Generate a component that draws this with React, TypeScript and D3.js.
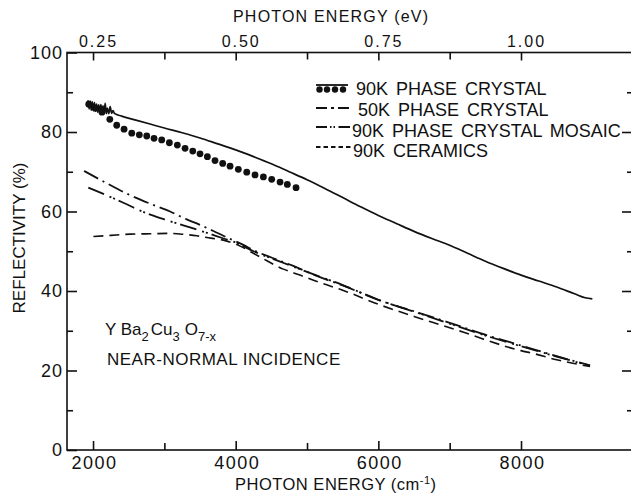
import React, { useEffect, useRef } from "react";
import * as d3 from "d3";

// reflectivity (%) vs photon energy (cm^-1)
const crystal90Line: [number, number][] = [
  [1930, 88.0], [1945, 85.8], [1960, 87.8], [1975, 85.5], [1990, 87.6], [2005, 85.4],
  [2020, 87.4], [2035, 85.2], [2050, 87.0], [2065, 85.0], [2080, 86.8], [2095, 84.9],
  [2110, 86.9], [2125, 84.8], [2140, 86.6], [2155, 84.7], [2170, 87.2], [2185, 84.6],
  [2200, 86.0], [2220, 84.6], [2240, 86.4], [2260, 84.7], [2280, 85.4], [2300, 84.7],
  [2400, 84.0], [2600, 83.0], [2800, 82.0], [3000, 81.0], [3250, 79.8], [3500, 78.5],
  [3750, 77.0], [4000, 75.5], [4250, 73.8], [4500, 72.0], [4750, 70.0], [5000, 68.0],
  [5250, 65.8], [5500, 63.5], [5750, 61.2], [6000, 59.0], [6250, 57.0], [6500, 55.0],
  [6750, 53.2], [7000, 51.5], [7250, 49.5], [7500, 47.5], [7750, 45.7], [8000, 44.0],
  [8250, 42.5], [8500, 41.0], [8750, 39.3], [8900, 38.3], [9000, 38.0],
];

const crystal90Dots: [number, number][] = [
  [1940, 87.0], [2030, 86.0], [2125, 85.0], [2235, 83.2], [2332, 81.7], [2435, 80.7],
  [2543, 79.7], [2649, 79.3], [2753, 79.0], [2855, 78.4], [2963, 78.0], [3070, 77.3],
  [3182, 76.7], [3290, 75.9], [3398, 75.2], [3500, 74.5], [3603, 73.8], [3710, 72.8],
  [3818, 72.1], [3921, 71.4], [4037, 70.6], [4155, 69.9], [4271, 69.2], [4388, 68.7],
  [4505, 68.1], [4622, 67.4], [4724, 66.8], [4846, 66.0],
];

const crystal50: [number, number][] = [
  [1874, 70.2], [2100, 68.0], [2449, 64.7], [2823, 61.8], [3080, 60.0], [3314, 58.0],
  [3454, 57.0], [3687, 55.1], [3874, 53.5], [4000, 52.5], [4107, 51.6], [4247, 50.3],
  [4622, 47.6], [4808, 46.3], [5136, 43.8], [5500, 41.4], [6024, 37.6], [6500, 34.9],
  [7000, 32.0], [7500, 29.0], [8000, 26.3], [8500, 23.6], [8968, 21.3],
];

const mosaic90: [number, number][] = [
  [1934, 66.0], [2200, 64.0], [2425, 62.2], [2729, 59.7], [3000, 58.0], [3360, 56.0],
  [3600, 54.6], [3800, 53.4], [4000, 52.2], [4250, 50.0], [4622, 47.4], [5000, 44.8],
  [5500, 41.5], [6000, 37.8], [6500, 34.8], [7000, 31.8], [7500, 28.8], [8000, 26.1],
  [8500, 23.5], [8968, 21.2],
];

const ceramics90: [number, number][] = [
  [2005, 53.7], [2250, 54.0], [2519, 54.3], [2800, 54.4], [3080, 54.5], [3300, 54.2],
  [3454, 53.9], [3650, 53.3], [3827, 52.8], [4000, 51.8], [4317, 48.8], [4668, 45.5],
  [4902, 44.0], [5182, 42.1], [5500, 40.2], [6024, 36.5], [6500, 33.6], [6865, 31.5],
  [7250, 29.3], [7519, 27.6], [8000, 25.0], [8169, 24.3], [8500, 22.7], [8968, 21.0],
];

const wavenumberTicks = [2000, 4000, 6000, 8000];
const wavenumberMinor = [3000, 5000, 7000];
const evTicks = [0.25, 0.5, 0.75, 1.0];
const evMinor = [0.375, 0.625, 0.875];
const reflTicks = [0, 20, 40, 60, 80, 100];
const reflMinor = [10, 30, 50, 70, 90];
const legendLabels = [
  "90K PHASE CRYSTAL",
  "50K PHASE CRYSTAL",
  "90K PHASE CRYSTAL MOSAIC",
  "90K CERAMICS",
];

const FONT = "'Liberation Sans', Arial, sans-serif";
const INK = "#111";

const drawChart = (node: SVGSVGElement) => {
  const svg = d3.select(node);
  svg.selectAll("*").remove();

  const x = d3.scaleLinear().domain([1635, 9556]).range([67, 632]);
  // top axis drawn with 0.125 eV ~ 1000 cm^-1, as in the original
  const xEv = d3.scaleLinear().domain([1635 / 8000, 9556 / 8000]).range([67, 632]);
  const y = d3.scaleLinear().domain([0, 100]).range([450, 52.5]);

  svg.append("rect").attr("width", 631).attr("height", 495).attr("fill", "#fff");

  // frame
  svg
    .append("rect")
    .attr("x", x.range()[0])
    .attr("y", y(100))
    .attr("width", x.range()[1] - x.range()[0])
    .attr("height", y(0) - y(100))
    .attr("fill", "none")
    .attr("stroke", INK)
    .attr("stroke-width", 1.6);

  const styleAxis = (g: any, size: number, spacing: number) => {
    g.select(".domain").remove();
    g.selectAll("line").attr("stroke", INK).attr("stroke-width", 1.6);
    g.selectAll("text")
      .attr("fill", INK)
      .style("font-family", FONT)
      .style("font-size", size + "px")
      .style("letter-spacing", spacing + "px");
  };

  // bottom
  svg
    .append("g")
    .attr("transform", `translate(0,${y(0)})`)
    .call(
      d3.axisBottom(x).tickValues(wavenumberTicks).tickSizeInner(-9).tickSizeOuter(0).tickPadding(6.5).tickFormat(d3.format("d"))
    )
    .call((g: any) => {
      styleAxis(g, 18, 1.5);
      g.selectAll("text").attr("dx", 1);
    });
  svg
    .append("g")
    .attr("transform", `translate(0,${y(0)})`)
    .call(d3.axisBottom(x).tickValues(wavenumberMinor).tickSizeInner(-7).tickSizeOuter(0).tickFormat(() => ""))
    .call((g: any) => styleAxis(g, 18, 0));

  // top (eV)
  svg
    .append("g")
    .attr("transform", `translate(0,${y(100)})`)
    .call(d3.axisTop(xEv).tickValues(evTicks).tickSizeInner(-8).tickSizeOuter(0).tickPadding(6).tickFormat(d3.format(".2f")))
    .call((g: any) => {
      styleAxis(g, 16, 2);
      g.selectAll("text").attr("dx", 5);
    });
  svg
    .append("g")
    .attr("transform", `translate(0,${y(100)})`)
    .call(d3.axisTop(xEv).tickValues(evMinor).tickSizeInner(-7).tickSizeOuter(0).tickFormat(() => ""))
    .call((g: any) => styleAxis(g, 16, 0));

  // left
  svg
    .append("g")
    .attr("transform", `translate(${x.range()[0]},0)`)
    .call(d3.axisLeft(y).tickValues(reflTicks).tickSizeInner(-10).tickSizeOuter(0).tickPadding(4).tickFormat(d3.format("d")))
    .call((g: any) => styleAxis(g, 18, 1));
  svg
    .append("g")
    .attr("transform", `translate(${x.range()[0]},0)`)
    .call(d3.axisLeft(y).tickValues(reflMinor).tickSizeInner(-6).tickSizeOuter(0).tickFormat(() => ""))
    .call((g: any) => styleAxis(g, 18, 0));

  // right (no labels)
  svg
    .append("g")
    .attr("transform", `translate(${x.range()[1]},0)`)
    .call(d3.axisRight(y).tickValues([20, 40, 60, 80]).tickSizeInner(-10).tickSizeOuter(0).tickFormat(() => ""))
    .call((g: any) => styleAxis(g, 18, 0));
  svg
    .append("g")
    .attr("transform", `translate(${x.range()[1]},0)`)
    .call(d3.axisRight(y).tickValues(reflMinor).tickSizeInner(-5).tickSizeOuter(0).tickFormat(() => ""))
    .call((g: any) => styleAxis(g, 18, 0));

  // curves
  const line = d3
    .line<[number, number]>()
    .x((d) => x(d[0]))
    .y((d) => y(d[1]))
    .curve(d3.curveMonotoneX);

  const curves: { data: [number, number][]; dash: string | null; width: number }[] = [
    { data: ceramics90, dash: "10,6", width: 1.6 },
    { data: mosaic90, dash: "17,6,2,2,2,4", width: 1.8 },
    { data: crystal50, dash: "16,5,2,5", width: 1.8 },
    { data: crystal90Line, dash: null, width: 1.7 },
  ];
  curves.forEach((c) => {
    svg
      .append("path")
      .attr("d", line(c.data))
      .attr("fill", "none")
      .attr("stroke", INK)
      .attr("stroke-width", c.width)
      .attr("stroke-dasharray", c.dash);
  });

  svg
    .append("g")
    .selectAll("circle")
    .data(crystal90Dots)
    .enter()
    .append("circle")
    .attr("cx", (d) => x(d[0]))
    .attr("cy", (d) => y(d[1]))
    .attr("r", 3.4)
    .attr("fill", INK);

  // legend
  const lg = svg.append("g");
  const rowY = [95, 116, 136.5, 156.5];
  const textX = [356, 358, 352, 353];
  lg.append("line").attr("x1", 316).attr("x2", 348).attr("y1", 85).attr("y2", 85).attr("stroke", INK).attr("stroke-width", 1.8);
  [319.5, 327, 335, 343].forEach((cx) => {
    lg.append("circle").attr("cx", cx).attr("cy", 89.5).attr("r", 3.2).attr("fill", INK);
  });
  const samples = [
    { y: 108, x2: 349, dash: "11,4,3,4,11" },
    { y: 127, x2: 350, dash: "11,3,1.5,2,1.5,3.5,12" },
    { y: 147, x2: 352, dash: "4.5,3" },
  ];
  samples.forEach((s) => {
    lg.append("line")
      .attr("x1", 316)
      .attr("x2", s.x2)
      .attr("y1", s.y)
      .attr("y2", s.y)
      .attr("stroke", INK)
      .attr("stroke-width", 1.8)
      .attr("stroke-dasharray", s.dash);
  });
  lg.selectAll("text")
    .data(legendLabels)
    .enter()
    .append("text")
    .attr("x", (d, i) => textX[i])
    .attr("y", (d, i) => rowY[i])
    .attr("fill", INK)
    .style("font-family", FONT)
    .style("font-size", "18px")
    .style("word-spacing", "3px")
    .text((d) => d);

  // titles
  svg
    .append("text")
    .attr("x", 233)
    .attr("y", 21.5)
    .attr("fill", INK)
    .style("font-family", FONT)
    .style("font-size", "16px")
    .style("letter-spacing", "1.2px")
    .text("PHOTON ENERGY (eV)");

  const bt = svg
    .append("text")
    .attr("x", 235)
    .attr("y", 490)
    .attr("fill", INK)
    .style("font-family", FONT)
    .style("font-size", "16.5px")
    .style("letter-spacing", "0.5px");
  bt.append("tspan").text("PHOTON ENERGY (cm");
  bt.append("tspan").attr("dy", -6).style("font-size", "11px").text("-1");
  bt.append("tspan").attr("dy", 6).text(")");

  svg
    .append("text")
    .attr("transform", "translate(25,238) rotate(-90)")
    .attr("text-anchor", "middle")
    .attr("fill", INK)
    .style("font-family", FONT)
    .style("font-size", "17px")
    .text("REFLECTIVITY (%)");

  // sample annotation
  const f = svg
    .append("text")
    .attr("x", 105)
    .attr("y", 335)
    .attr("fill", INK)
    .style("font-family", FONT)
    .style("font-size", "17px");
  f.append("tspan").text("Y Ba");
  f.append("tspan").attr("dy", 6).style("font-size", "13px").text("2");
  f.append("tspan").attr("dy", -6).attr("dx", 2).text("Cu");
  f.append("tspan").attr("dy", 6).style("font-size", "13px").text("3");
  f.append("tspan").attr("dy", -6).attr("dx", 5).text("O");
  f.append("tspan").attr("dy", 6).style("font-size", "13px").text("7-x");

  svg
    .append("text")
    .attr("x", 107)
    .attr("y", 365)
    .attr("fill", INK)
    .style("font-family", FONT)
    .style("font-size", "17px")
    .style("letter-spacing", "0.5px")
    .text("NEAR-NORMAL INCIDENCE");
};

const App = () => {
  const ref = useRef<SVGSVGElement>(null);
  useEffect(() => {
    if (ref.current) drawChart(ref.current);
  }, []);
  return (
    <svg
      ref={ref}
      width={631}
      height={495}
      style={{ position: "absolute", left: 0, top: 0, display: "block" }}
    />
  );
};

export default App;
